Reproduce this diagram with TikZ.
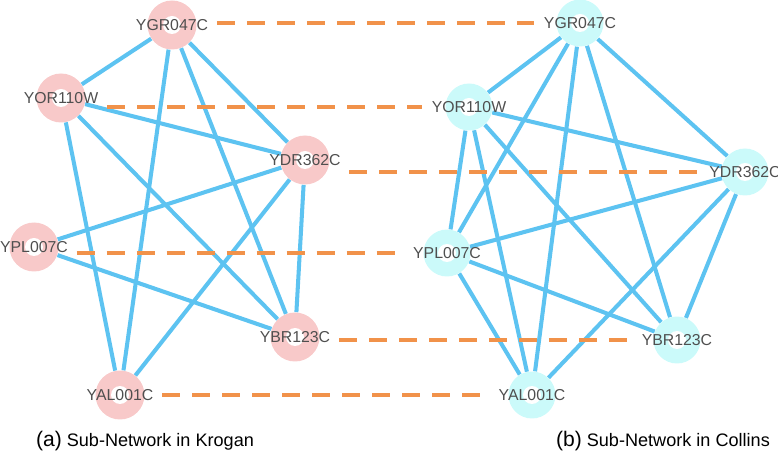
\documentclass[tikz,border=0pt]{standalone}
\usepackage{fontspec}
\setmainfont{Liberation Sans}
\usepackage{xcolor}
\usepackage{tikz}
\usetikzlibrary{backgrounds}

\definecolor{krogpink}{HTML}{F8C9C9}
\definecolor{collcyan}{HTML}{CBFAFA}
\definecolor{edgeblue}{HTML}{5DC3F1}
\definecolor{matchorange}{HTML}{F1924A}
\definecolor{labgray}{HTML}{4F4F4F}

\tikzset{
  prot/.style={circle,minimum size=0.98cm,inner sep=0pt,
    path picture={\fill[white] (path picture bounding box.center) circle (0.18cm);}},
  krogan/.style={prot,fill=krogpink},
  collins/.style={prot,fill=collcyan,minimum size=0.94cm},
  ppi/.style={edgeblue,line width=2.3pt},
  match/.style={matchorange,line width=2.8pt,dash pattern=on 0.36cm off 0.24cm,
    shorten <=0.1cm,shorten >=0.12cm},
  protlabel/.style={text=labgray,font=\fontsize{9}{10}\selectfont,inner sep=2pt}
}

\begin{document}
\begin{tikzpicture}[x=0.02cm,y=-0.02cm,every label/.style=protlabel,label distance=0pt]
    \useasboundingbox (0,0) rectangle (778,455);

    % Krogan
    \node[krogan,label={[name=kYGRt]center:YGR047C}] (kYGR) at (172,25) {};
    \node[krogan,label={[name=kYORt]center:YOR110W}] (kYOR) at (61,98) {};
    \node[krogan,label={[name=kYDRt]center:YDR362C}] (kYDR) at (305,160) {};
    \node[krogan,label={[name=kYPLt]center:YPL007C}] (kYPL) at (34,247) {};
    \node[krogan,label={[name=kYBRt]center:YBR123C}] (kYBR) at (295,337) {};
    \node[krogan,label={[name=kYALt]center:YAL001C}] (kYAL) at (120,395) {};

    % Collins
    \node[collins,label={[name=cYGRt]center:YGR047C}] (cYGR) at (580,23) {};
    \node[collins,label={[name=cYORt]center:YOR110W}] (cYOR) at (469,107) {};
    \node[collins,label={[name=cYDRt]center:YDR362C}] (cYDR) at (745,172) {};
    \node[collins,label={[name=cYPLt]center:YPL007C}] (cYPL) at (447,253) {};
    \node[collins,label={[name=cYBRt]center:YBR123C}] (cYBR) at (677,340) {};
    \node[collins,label={[name=cYALt]center:YAL001C}] (cYAL) at (532,395) {};

    \node[anchor=west] (capa) at (30,441) {{\fontsize{12}{14}\selectfont (a)} \fontsize{10.3}{12}\selectfont Sub-Network in Krogan};
    \node[anchor=west] (capb) at (550,441) {{\fontsize{12}{14}\selectfont (b)} \fontsize{10.3}{12}\selectfont Sub-Network in Collins};

    \begin{scope}[on background layer]
    \foreach \a/\b in {kYGR/kYOR,kYGR/kYAL,kYGR/kYBR,kYGR/kYDR,kYOR/kYDR,kYOR/kYAL,
        kYOR/kYBR,kYDR/kYPL,kYDR/kYAL,kYDR/kYBR,kYPL/kYBR}
        \draw[ppi] (\a) -- (\b);
    \foreach \a/\b in {cYGR/cYOR,cYGR/cYPL,cYGR/cYAL,cYGR/cYBR,cYGR/cYDR,cYOR/cYDR,
        cYOR/cYPL,cYOR/cYAL,cYOR/cYBR,cYDR/cYPL,cYDR/cYAL,cYDR/cYBR,cYPL/cYBR,cYPL/cYAL}
        \draw[ppi] (\a) -- (\b);
    \end{scope}

    % matches
    \foreach \p in {YGR,YOR,YDR,YPL,YBR,YAL}
        \draw[match] (k\p t.east |- c\p t.west) -- (c\p t.west);
\end{tikzpicture}
\end{document}
